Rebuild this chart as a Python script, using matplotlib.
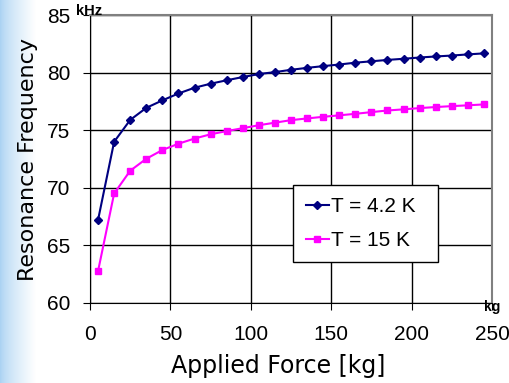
import numpy as np
import matplotlib
matplotlib.use("Agg")
import matplotlib.pyplot as plt

# applied force [kg]
force = [5, 15, 25, 35, 45, 55, 65, 75, 85, 95, 105, 115, 125,
         135, 145, 155, 165, 175, 185, 195, 205, 215, 225, 235, 245]

# resonance frequency [kHz]
freq_4k = [67.2, 74.0, 75.9, 76.95, 77.6, 78.2, 78.7, 79.05, 79.35, 79.63,
           79.89, 80.06, 80.26, 80.43, 80.58, 80.72, 80.88, 81.0, 81.12,
           81.22, 81.33, 81.42, 81.5, 81.6, 81.69]
freq_15k = [62.75, 69.5, 71.48, 72.52, 73.28, 73.83, 74.28, 74.65, 74.93,
            75.18, 75.44, 75.66, 75.88, 76.03, 76.17, 76.3, 76.43, 76.58,
            76.72, 76.82, 76.93, 77.02, 77.1, 77.17, 77.25]

labels = ['T = 4.2 K', 'T = 15 K']

plt.rcParams['font.family'] = ['Liberation Sans', 'DejaVu Sans']

fig = plt.figure(figsize=(5.10, 3.83), dpi=100)

# light blue strip at the left edge
bg = fig.add_axes([0, 0, 0.07, 1], zorder=-10)
grad = np.linspace(0, 1, 100)[None, :]
cols = np.zeros((1, 100, 3))
base = np.array([0.66, 0.82, 0.95])
for i in range(100):
    w = grad[0, i] ** 0.7
    cols[0, i] = base * (1 - w) + np.array([1, 1, 1]) * w
bg.imshow(np.repeat(cols, 10, axis=0), aspect='auto', extent=[0, 1, 0, 1])
bg.axis('off')

ax = fig.add_axes([0.1765, 0.2097, 0.7882, 0.7503])
ax.plot(force, freq_4k, color='#000080', marker='D', markersize=4.5,
        linewidth=1.5, label=labels[0], zorder=3)
ax.plot(force, freq_15k, color='#FF00FF', marker='s', markersize=5,
        linewidth=1.5, label=labels[1], zorder=3)

ax.set_xlim(0, 250)
ax.set_ylim(60, 85)
ax.set_xticks(range(0, 251, 50))
ax.set_yticks(range(60, 86, 5))
ax.grid(True, color='black', linewidth=1)
ax.set_axisbelow(True)
for s in ['top', 'right']:
    ax.spines[s].set_color('#808080')
    ax.spines[s].set_linewidth(1.5)
for s in ['left', 'bottom']:
    ax.spines[s].set_color('black')
ax.tick_params(axis='both', labelsize=15, length=5, direction='out')
ax.tick_params(axis='y', pad=9)
ax.tick_params(axis='x', pad=11)

ax.set_xlabel('Applied Force [kg]', fontsize=17, family='DejaVu Sans')
ax.set_ylabel('Resonance Frequency', fontsize=16, family='DejaVu Sans')
ax.xaxis.set_label_coords(0.468, -0.18)
ax.yaxis.set_label_coords(-0.13, 0.5)

fig.text(76 / 510, 1 - 15 / 383, 'kHz', fontsize=10.5, fontweight='bold',
         va='baseline', ha='left')
fig.text(484 / 510, 1 - 311 / 383, 'kg', fontsize=10, fontweight='bold',
         va='baseline', ha='left')

leg = ax.legend(loc='center', bbox_to_anchor=(0.506, 0.149, 0.36, 0.253),
                mode='expand', borderaxespad=0, fontsize=15, frameon=True,
                fancybox=False, framealpha=1, edgecolor='black',
                handlelength=1.1, handletextpad=0.1, borderpad=0.6,
                labelspacing=0.7, markerscale=0.8)
leg.get_frame().set_linewidth(1)

fig.savefig('out.png', dpi=100)
